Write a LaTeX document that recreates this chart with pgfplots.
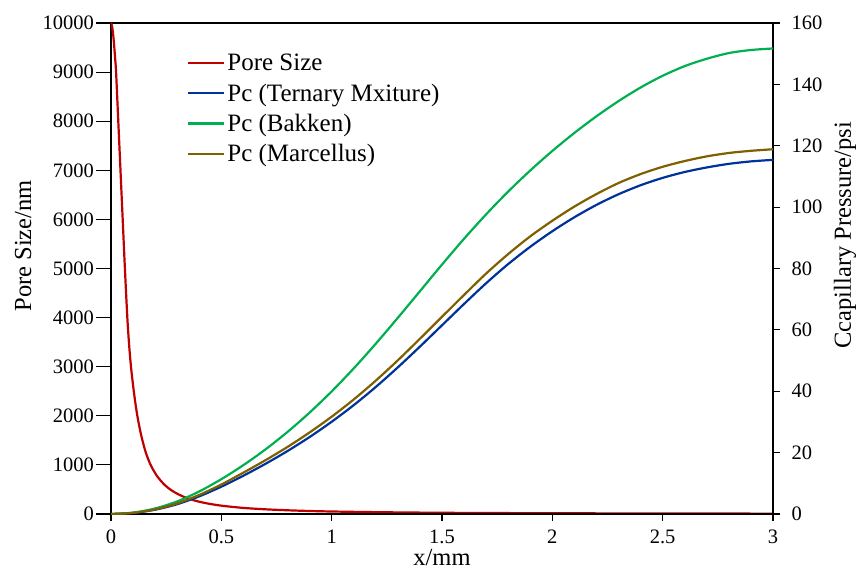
\documentclass[border=0pt]{standalone}
\usepackage{pgfplots}
\pgfplotsset{compat=1.18}
\usepackage{fontspec}
\setmainfont{Liberation Serif}
\definecolor{cred}{RGB}{192,0,0}
\definecolor{cblue}{RGB}{0,51,153}
\definecolor{cgreen}{RGB}{0,176,80}
\definecolor{cbrown}{RGB}{127,96,0}
\pgfplotsset{
  common/.style={
    scale only axis, width=662pt, height=491pt,
    xmin=0, xmax=3,
    tick align=outside,
    axis line style={line width=1.1pt, black},
    tick style={line width=1.1pt, black},
    every tick label/.append style={font=\fontsize{20.5}{24}\selectfont},
    /pgf/number format/assume math mode=true,
    label style={font=\fontsize{24.5}{28}\selectfont},
  }
}
\pgfplotstableread{
x ternary bakken marcellus
0.0 0.00 0.00 0.00
0.1 0.35 0.45 0.38
0.2 1.40 1.80 1.51
0.3 3.20 4.10 3.46
0.4 5.75 7.35 6.21
0.5 8.90 11.35 9.61
0.6 12.48 15.93 13.48
0.7 16.35 21.05 17.53
0.8 20.53 26.75 21.86
0.9 25.08 33.05 26.58
1.0 30.06 39.95 31.71
1.1 35.48 47.45 37.32
1.2 41.40 55.50 43.47
1.3 47.80 63.95 50.10
1.4 54.55 72.60 57.11
1.5 61.50 81.28 64.27
1.6 68.45 89.70 71.39
1.7 75.20 97.65 78.36
1.8 81.45 105.08 84.71
1.9 87.08 111.95 90.48
2.0 92.15 118.30 95.56
2.1 96.70 124.18 100.18
2.2 100.73 129.60 104.26
2.3 104.20 134.55 107.85
2.4 107.13 138.98 110.77
2.5 109.53 142.80 113.14
2.6 111.45 145.95 115.02
2.7 112.93 148.35 116.54
2.8 114.10 150.20 117.64
2.9 114.90 151.20 118.35
3.0 115.40 151.70 118.86
}\pcdata
\begin{document}
\begin{tikzpicture}
\useasboundingbox (-111pt,-56pt) rectangle (750pt,514pt);
\begin{axis}[common,
  major tick length=15pt,
  ymin=0, ymax=10000,
  xtick={0,0.5,1,1.5,2,2.5,3},
  ytick={0,1000,...,10000},
  xtick pos=bottom, ytick pos=left,
  x tick style={draw=none},
  scaled y ticks=false,
  yticklabel style={/pgf/number format/1000 sep={}, xshift=1.5pt},
  xticklabel style={yshift=3pt},
  xlabel={x/mm}, ylabel={Pore Size/nm},
  xlabel style={at={(axis description cs:0.5,-0.1059)}, anchor=base, inner sep=0pt},
  ylabel style={at={(axis description cs:-0.1329,0.546)}, anchor=center},
]
\addplot[cred, line width=2.2pt, smooth] coordinates {
(0,10000) (0.004,9950) (0.009,9800) (0.014,9560) (0.018,9320) (0.023,9000)
(0.033,8000) (0.043,7000) (0.053,6000) (0.063,5000) (0.074,4000) (0.082,3450)
(0.091,2980) (0.105,2440) (0.119,2010) (0.135,1640) (0.154,1306) (0.170,1100)
(0.184,960) (0.210,764) (0.245,584) (0.280,465) (0.320,369) (0.360,300)
(0.403,247) (0.450,204) (0.509,165) (0.600,124) (0.706,94) (0.850,68)
(1.0,51) (1.25,35) (1.5,25) (1.75,19.5) (2.0,15.4) (2.5,10.5) (3.0,7.7)
};
\end{axis}
\begin{axis}[common,
  major tick length=7pt,
  ymin=0, ymax=160,
  axis x line*=bottom, axis y line*=right,
  xtick={0,0.5,1,1.5,2,2.5,3}, xticklabels={},
  ytick={0,20,...,160},
  yticklabel style={xshift=8pt},
  ylabel={Ccapillary Pressure/psi},
  ylabel style={at={(axis description cs:1.1088,0.568)}, anchor=center},
  legend cell align=left,
  legend image code/.code={\draw[#1] (0pt,0pt) -- (36pt,0pt);},
  legend style={at={(axis description cs:0.1148,0.941)}, anchor=north west,
    draw=none, fill=none, inner sep=0pt, row sep=7.5pt,
    font=\fontsize{25}{28}\selectfont},
]
\addlegendimage{cred, line width=2.2pt}
\addlegendentry{Pore Size}
\addplot[cblue, line width=2.2pt, smooth] table[x=x, y=ternary] {\pcdata};
\addlegendentry{Pc (Ternary Mxiture)}
\addplot[cgreen, line width=2.2pt, smooth] table[x=x, y=bakken] {\pcdata};
\addlegendentry{Pc (Bakken)}
\addplot[cbrown, line width=2.2pt, smooth] table[x=x, y=marcellus] {\pcdata};
\addlegendentry{Pc (Marcellus)}
\end{axis}
\end{tikzpicture}
\end{document}
